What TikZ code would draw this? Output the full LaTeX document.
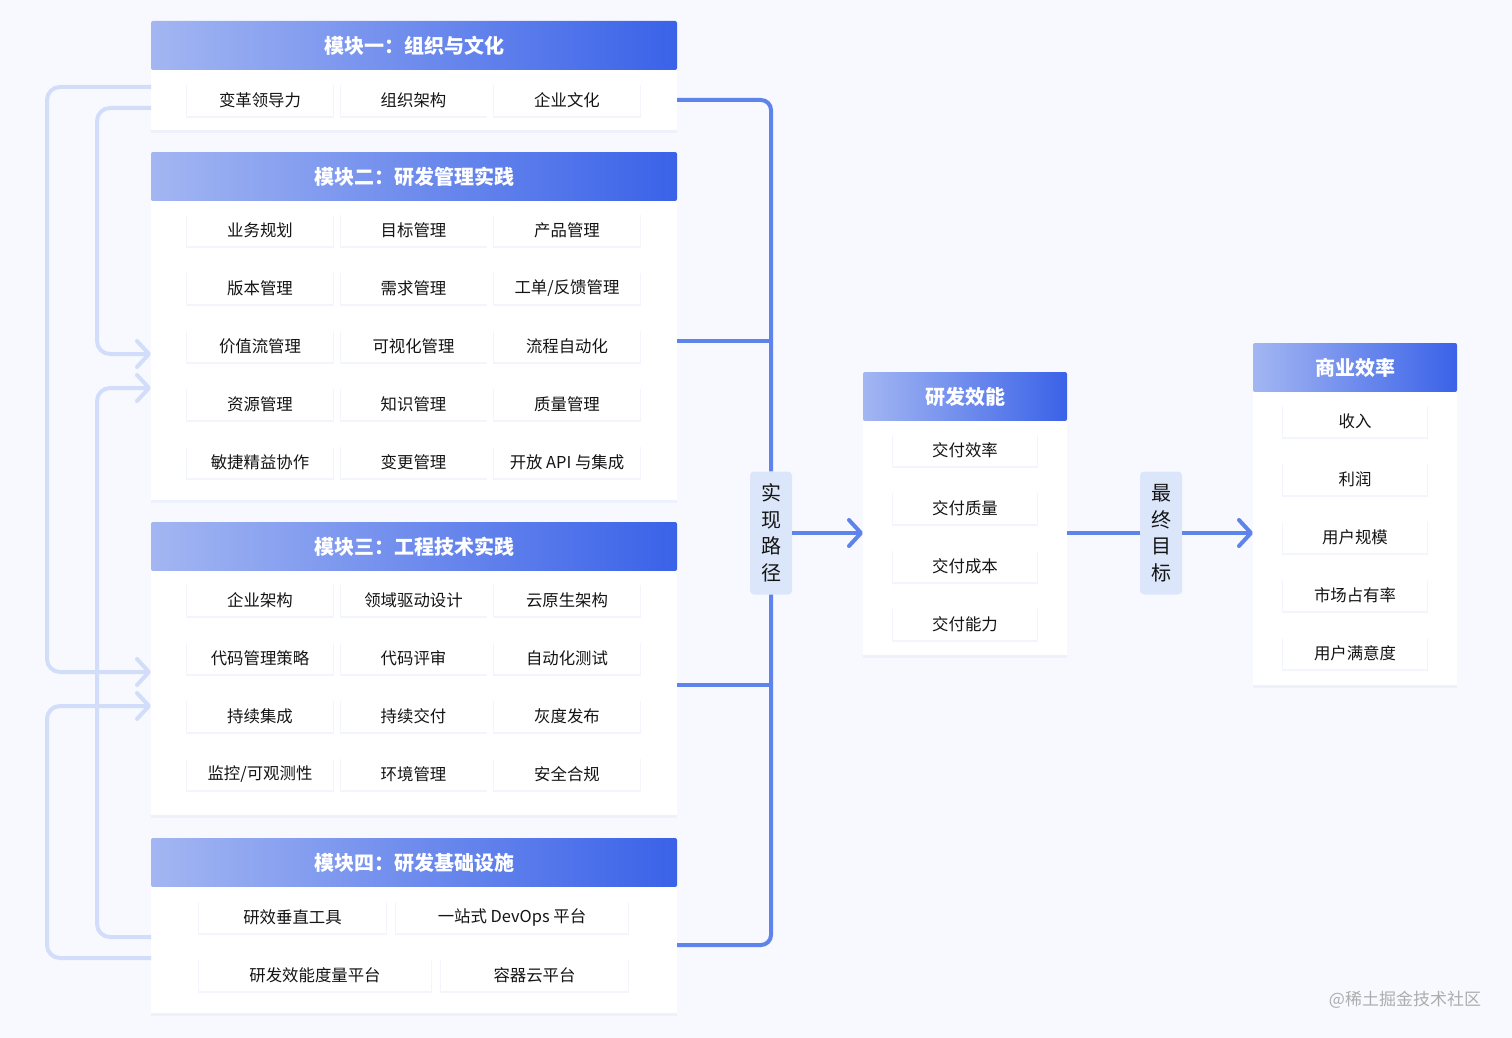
\documentclass[tikz,border=0pt]{standalone}
\usepackage{fontspec}
\setmainfont{Noto Sans CJK SC}
\usepackage{tikz}
\usetikzlibrary{positioning, arrows.meta, shadows, calc}
\definecolor{colorHeadLight}{HTML}{A3B6F2}
\definecolor{colorHeadDark}{HTML}{3A62E8}
\definecolor{colorLink}{HTML}{5E83EA}
\definecolor{colorFeed}{HTML}{D2DEF9}
\definecolor{colorTag}{HTML}{DCE6FA}
\definecolor{colorBack}{HTML}{F7F9FE}
\definecolor{colorText}{HTML}{141414}
\tikzset{
  head/.style={left color=colorHeadLight, right color=colorHeadDark, text=white, minimum width=526pt, minimum height=49pt, inner sep=0pt, outer sep=0pt, rounded corners=2pt, font=\bfseries\fontsize{20}{24}\selectfont},
  panel/.style={fill=white, minimum width=526pt, inner sep=0pt, outer sep=0pt, drop shadow={shadow xshift=0pt, shadow yshift=-3pt, opacity=.05, fill=colorHeadDark}},
  item/.style={fill=white, text=colorText, minimum width=146pt, minimum height=32pt, inner sep=0pt, font=\fontsize{16.4}{19}\selectfont, drop shadow={shadow xshift=0pt, shadow yshift=-1.5pt, shadow scale=1.01, opacity=.06, fill=colorHeadDark}},
  tag/.style={fill=colorTag, text=colorText, rounded corners=4pt, minimum width=42pt, minimum height=123pt, inner sep=0pt, align=center, font=\fontsize{20}{26.5}\selectfont},
  link/.style={draw=colorLink, line width=4pt, rounded corners=10pt},
  feed/.style={draw=colorFeed, line width=4pt, rounded corners=13pt},
  watermark/.style={text=black!32, font=\fontsize{17}{20}\selectfont}
}
\begin{document}
\begin{tikzpicture}[x=1pt, y=-1pt, >={Straight Barb[length=12pt,width=26pt,round]}, node distance=22pt]
\useasboundingbox[fill=colorBack] (0,0) rectangle (1512,1038);

% the four modules
\node[head] (h1) at (414,45.5) {模块一：组织与文化};
\node[panel, minimum height=60pt, below=0pt of h1] (b1) {};
\node[head, below=of b1] (h2) {模块二：研发管理实践};
\node[panel, minimum height=299pt, below=0pt of h2] (b2) {};
\node[head, below=of b2] (h3) {模块三：工程技术实践};
\node[panel, minimum height=244pt, below=0pt of h3] (b3) {};
\node[head, below=23pt of b3] (h4) {模块四：研发基础设施};
\node[panel, minimum height=126pt, below=0pt of h4] (b4) {};

\foreach \t [count=\i] in {变革领导力,组织架构,企业文化}
  \node[item] (m1-\i) at ({106.5+153.5*\i},100) {\t};

\foreach \a/\b/\c [count=\r] in {业务规划/目标管理/产品管理, 版本管理/需求管理/工单{/}反馈管理, 价值流管理/可视化管理/流程自动化, 资源管理/知识管理/质量管理, 敏捷精益协作/变更管理/开放 API 与集成} {
  \node[item] (m2-\r-1) at (260,{172+58*\r}) {\a};
  \node[item] (m2-\r-2) at (413.5,{172+58*\r}) {\b};
  \node[item] (m2-\r-3) at (567,{172+58*\r}) {\c};
}

\foreach \a/\b/\c [count=\r] in {企业架构/领域驱动设计/云原生架构, 代码管理策略/代码评审/自动化测试, 持续集成/持续交付/灰度发布, 监控{/}可观测性/环境管理/安全合规} {
  \node[item] (m3-\r-1) at (260,{542+58*\r}) {\a};
  \node[item] (m3-\r-2) at (413.5,{542+58*\r}) {\b};
  \node[item] (m3-\r-3) at (567,{542+58*\r}) {\c};
}

\node[item, minimum width=187pt] (m4-1) at (292.5,917) {研效垂直工具};
\node[item, minimum width=232pt] (m4-2) at (512,917) {一站式 DevOps 平台};
\node[item, minimum width=232pt] (m4-3) at (315,975) {研发效能度量平台};
\node[item, minimum width=187pt] (m4-4) at (534.5,975) {容器云平台};

% middle and right
\node[head, minimum width=204pt] (h5) at (965,396.5) {研发效能};
\node[panel, minimum width=204pt, minimum height=234pt, below=0pt of h5] (b5) {};
\foreach \t [count=\i] in {交付效率,交付质量,交付成本,交付能力}
  \node[item, minimum width=144pt] (m5-\i) at (965,{392+58*\i}) {\t};

\node[head, minimum width=204pt] (h6) at (1355,367.5) {商业效率};
\node[panel, minimum width=204pt, minimum height=293pt, below=0pt of h6] (b6) {};
\foreach \t [count=\i] in {收入,利润,用户规模,市场占有率,用户满意度}
  \node[item, minimum width=144pt] (m6-\i) at (1355,{363+58*\i}) {\t};

\node[tag] (t1) at (771,533) {实\\现\\路\\径};
\node[tag] (t2) at (1161,533) {最\\终\\目\\标};

% bracket to the middle
\coordinate (r2) at ($(b2.east)+(0,-9.5)$);
\coordinate (r3) at ($(b3.east)+(0,-8)$);
\coordinate (r4) at ($(b4.east)+(0,-5)$);
\draw[link] (b1.east) -| (t1.north);
\draw[link] (r4) -| (t1.south);
\draw[link] (r2) -- (r2 -| t1);
\draw[link] (r3) -- (r3 -| t1);
\draw[link, ->] (t1.east) -- (t1.east -| b5.west);
\draw[link] (b5.east |- t2) -- (t2.west);
\draw[link, ->] (t2.east) -- (t2.east -| b6.west);

% feedback on the left
\coordinate (outer) at (47,0);
\coordinate (inner) at (97,0);
\coordinate (s1) at ($(b1.west)+(0,-13)$);
\coordinate (s2) at ($(b1.west)+(0,8)$);
\coordinate (s3) at ($(b4.west)+(0,-13)$);
\coordinate (s4) at ($(b4.west)+(0,8)$);
\coordinate (e1) at ($(b2.west)+(0,3.5)$);
\coordinate (e2) at ($(b2.west)+(0,37.5)$);
\coordinate (e3) at ($(b3.west)+(0,-21)$);
\coordinate (e4) at ($(b3.west)+(0,13)$);
\draw[feed, ->] (s1) -| (outer |- e3) -- (e3);
\draw[feed, ->] (s4) -| (outer |- e4) -- (e4);
\draw[feed, ->] (s2) -| (inner |- e1) -- (e1);
\draw[feed, ->] (s3) -| (inner |- e2) -- (e2);

\node[watermark] (wm) at (1405,1000) {@稀土掘金技术社区};
\end{tikzpicture}
\end{document}
